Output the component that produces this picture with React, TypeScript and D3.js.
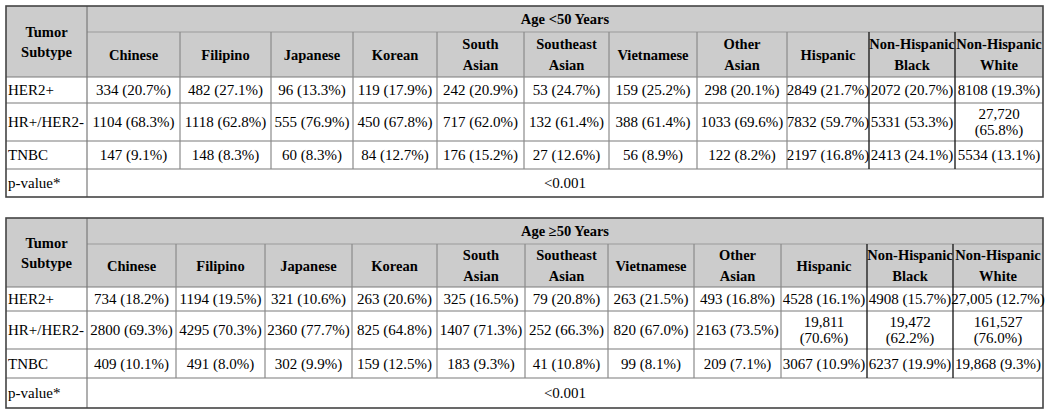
import * as d3 from "d3";
import React from "react";

// --- data ---------------------------------------------------------------
const groups = [
  "Chinese", "Filipino", "Japanese", "Korean", "South Asian", "Southeast Asian",
  "Vietnamese", "Other Asian", "Hispanic", "Non-Hispanic Black", "Non-Hispanic White",
];
const subtypes = ["HER2+", "HR+/HER2-", "TNBC"];

// Age < 50
const her2Under50 = [334, 482, 96, 119, 242, 53, 159, 298, 2849, 2072, 8108];
const her2Under50Pct = [20.7, 27.1, 13.3, 17.9, 20.9, 24.7, 25.2, 20.1, 21.7, 20.7, 19.3];
const hrUnder50 = [1104, 1118, 555, 450, 717, 132, 388, 1033, 7832, 5331, 27720];
const hrUnder50Pct = [68.3, 62.8, 76.9, 67.8, 62.0, 61.4, 61.4, 69.6, 59.7, 53.3, 65.8];
const tnbcUnder50 = [147, 148, 60, 84, 176, 27, 56, 122, 2197, 2413, 5534];
const tnbcUnder50Pct = [9.1, 8.3, 8.3, 12.7, 15.2, 12.6, 8.9, 8.2, 16.8, 24.1, 13.1];

// Age >= 50
const her2Over50 = [734, 1194, 321, 263, 325, 79, 263, 493, 4528, 4908, 27005];
const her2Over50Pct = [18.2, 19.5, 10.6, 20.6, 16.5, 20.8, 21.5, 16.8, 16.1, 15.7, 12.7];
const hrOver50 = [2800, 4295, 2360, 825, 1407, 252, 820, 2163, 19811, 19472, 161527];
const hrOver50Pct = [69.3, 70.3, 77.7, 64.8, 71.3, 66.3, 67.0, 73.5, 70.6, 62.2, 76.0];
const tnbcOver50 = [409, 491, 302, 159, 183, 41, 99, 209, 3067, 6237, 19868];
const tnbcOver50Pct = [10.1, 8.0, 9.9, 12.5, 9.3, 10.8, 8.1, 7.1, 10.9, 19.9, 9.3];

const pValues = ["<0.001", "<0.001"];
const ageLabels = ["Age <50 Years", "Age \u226550 Years"];

// --- layout ---------------------------------------------------------------
const W = 1050;
const H = 414;
const FONT = "'Liberation Serif', 'Times New Roman', serif";
const HEADER_BG = "#cccccc";

const cols1 = [6, 87, 180, 271, 353, 437, 524, 609, 697, 787, 869, 955, 1043];
const rows1 = [6, 32, 77, 103, 141, 169, 197];
const cols2 = [6, 87, 176, 265, 352, 437, 525, 608, 694, 781, 867, 953, 1043];
const rows2 = [218, 244, 287, 311, 349, 378, 408];

const fmtCount = (n: number) => (n >= 10000 ? d3.format(",")(n) : String(n));
const fmtPct = (p: number) => `(${d3.format(".1f")(p)}%)`;

function headerLines(name: string): string[] {
  const i = name.lastIndexOf(" ");
  return i < 0 ? [name] : [name.slice(0, i), name.slice(i + 1)];
}

type TableProps = {
  cols: number[];
  rows: number[];
  age: string;
  pValue: string;
  counts: number[][];
  pcts: number[][];
};

function Table({ cols, rows, age, pValue, counts, pcts }: TableProps) {
  const x = d3.scaleOrdinal<string, number>().domain(groups).range(cols.slice(1, -1));
  const xEnd = d3.scaleOrdinal<string, number>().domain(groups).range(cols.slice(2));
  const left = cols[0];
  const right = cols[cols.length - 1];
  const top = rows[0];
  const bottom = rows[rows.length - 1];
  const dataMid = (cols[1] + right) / 2;
  const dark = new Set([cols[10], cols[11]]);

  return (
    <g fontFamily={FONT} fontSize={15} fill="#000">
      <rect x={left} y={top} width={right - left} height={rows[2] - top} fill={HEADER_BG} />

      {/* horizontal rules */}
      <line x1={cols[1]} x2={right} y1={rows[1]} y2={rows[1]} stroke="#9a9a9a" strokeWidth={1.2} />
      {rows.slice(2, -1).map((y) => (
        <line key={"h" + y} x1={left} x2={right} y1={y} y2={y} stroke="#7a7a7a" strokeWidth={1.2} />
      ))}
      {/* vertical rules */}
      <line x1={cols[1]} x2={cols[1]} y1={top} y2={bottom} stroke="#7a7a7a" strokeWidth={1.2} />
      {cols.slice(2, -1).map((c) => (
        <line
          key={"v" + c}
          x1={c}
          x2={c}
          y1={rows[1]}
          y2={rows[5]}
          stroke={dark.has(c) ? "#222" : "#8a8a8a"}
          strokeWidth={dark.has(c) ? 1.4 : 1.2}
        />
      ))}
      <rect x={left} y={top} width={right - left} height={bottom - top} fill="none" stroke="#444" strokeWidth={1.6} />

      {/* header */}
      <g fontSize={14.5} fontWeight={700}>
        <text x={dataMid} y={(rows[0] + rows[1]) / 2} textAnchor="middle" dominantBaseline="central">
          {age}
        </text>
        <text textAnchor="middle">
          <tspan x={(left + cols[1]) / 2} y={(top + rows[2]) / 2 - 10} dominantBaseline="central">Tumor</tspan>
          <tspan x={(left + cols[1]) / 2} y={(top + rows[2]) / 2 + 10} dominantBaseline="central">Subtype</tspan>
        </text>
        {groups.map((g) => {
          const cx = (x(g) + xEnd(g)) / 2;
          const lines = headerLines(g);
          const cy = (rows[1] + rows[2]) / 2;
          return (
            <text key={g} textAnchor="middle">
              {lines.map((l, i) => (
                <tspan key={i} x={cx} y={cy + (i - (lines.length - 1) / 2) * 21} dominantBaseline="central">
                  {l}
                </tspan>
              ))}
            </text>
          );
        })}
      </g>

      {/* body */}
      {subtypes.map((s, r) => {
        const cy = (rows[r + 2] + rows[r + 3]) / 2;
        return (
          <g key={s}>
            <text x={left + 2} y={cy} dominantBaseline="central">{s}</text>
            {groups.map((g, i) => {
              const cx = (x(g) + xEnd(g)) / 2;
              const n = counts[r][i];
              const wrap = s === "HR+/HER2-" && n >= 10000;
              return wrap ? (
                <text key={g} textAnchor="middle">
                  <tspan x={cx} y={cy - 8} dominantBaseline="central">{fmtCount(n)}</tspan>
                  <tspan x={cx} y={cy + 8} dominantBaseline="central">{fmtPct(pcts[r][i])}</tspan>
                </text>
              ) : (
                <text key={g} x={cx} y={cy} textAnchor="middle" dominantBaseline="central">
                  {`${fmtCount(n)} ${fmtPct(pcts[r][i])}`}
                </text>
              );
            })}
          </g>
        );
      })}

      <text x={left + 2} y={(rows[5] + rows[6]) / 2} dominantBaseline="central">p-value*</text>
      <text x={dataMid} y={(rows[5] + rows[6]) / 2} textAnchor="middle" dominantBaseline="central">{pValue}</text>
    </g>
  );
}

export default function App() {
  return (
    <svg
      width={W}
      height={H}
      style={{ position: "absolute", left: 0, top: 0, background: "#fff" }}
    >
      <rect width={W} height={H} fill="#fff" />
      <Table
        cols={cols1}
        rows={rows1}
        age={ageLabels[0]}
        pValue={pValues[0]}
        counts={[her2Under50, hrUnder50, tnbcUnder50]}
        pcts={[her2Under50Pct, hrUnder50Pct, tnbcUnder50Pct]}
      />
      <Table
        cols={cols2}
        rows={rows2}
        age={ageLabels[1]}
        pValue={pValues[1]}
        counts={[her2Over50, hrOver50, tnbcOver50]}
        pcts={[her2Over50Pct, hrOver50Pct, tnbcOver50Pct]}
      />
    </svg>
  );
}
